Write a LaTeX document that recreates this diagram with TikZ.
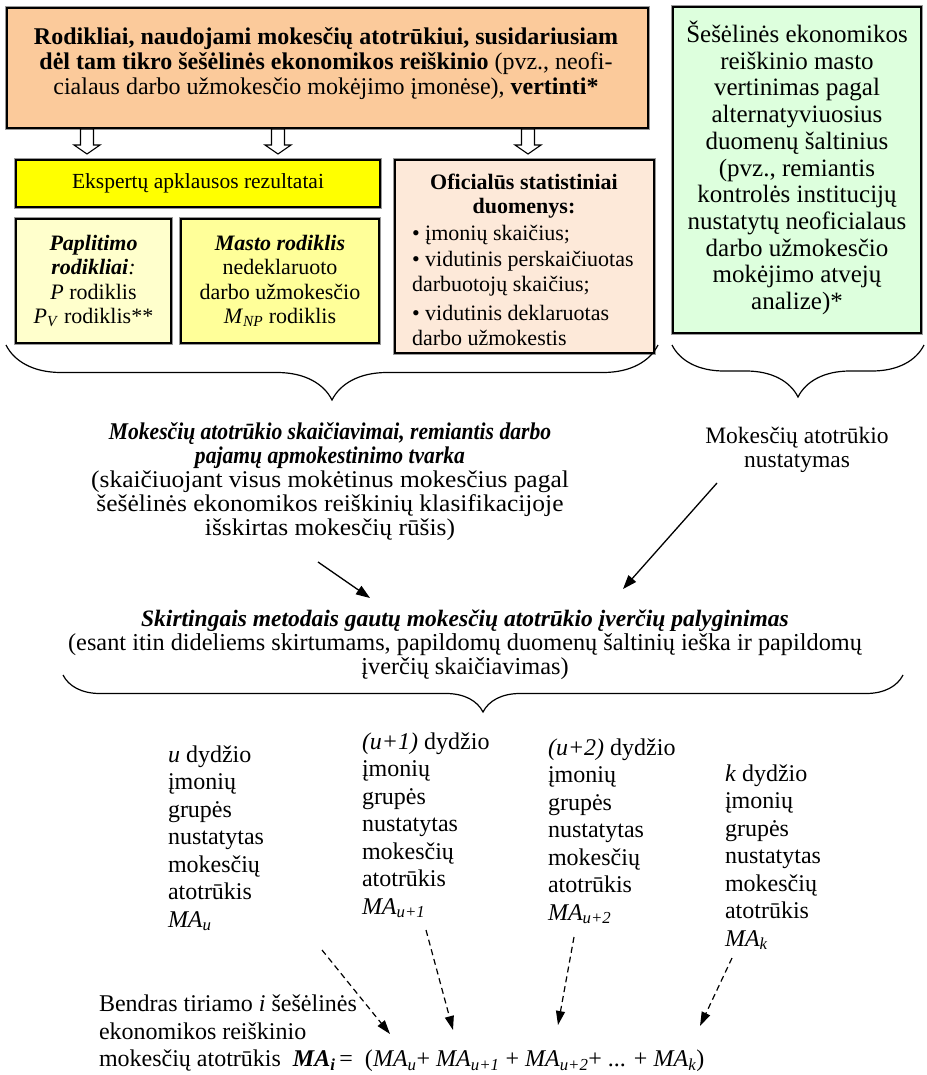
\documentclass[tikz,border=0pt]{standalone}
\usepackage{fontspec}
\setmainfont{Liberation Serif}
\usetikzlibrary{decorations.pathreplacing,arrows.meta}

\definecolor{peach}{RGB}{251,202,155}
\definecolor{lemon}{RGB}{255,255,0}
\definecolor{paleyellow}{RGB}{255,255,204}
\definecolor{softyellow}{RGB}{255,255,153}
\definecolor{paleorange}{RGB}{253,233,217}
\definecolor{palegreen}{RGB}{221,255,221}

\newcommand{\fsz}[2]{\fontsize{#1}{#2}\selectfont}
\newcommand{\ma}[1]{\textit{MA}\textsubscript{\textit{#1}}}
\newcommand{\narrowbi}[1]{{\bfseries\itshape\addfontfeature{FakeStretch=0.9}#1}}
\newcommand{\widerm}[1]{{\addfontfeature{FakeStretch=1.06}#1}}

\begin{document}
\begin{tikzpicture}[x=1pt,y=-1pt,
  every node/.style={inner sep=0pt, outer sep=0pt},
  box/.style={draw=black, line width=1.3pt, preaction={draw=black!40, line width=3.4pt}, anchor=north west},
  boxtext/.style={align=center, font=\fsz{22}{24.5}},
  plain/.style={align=center, font=\fsz{23.5}{24}},
  column/.style={align=left, anchor=north west, font=\fsz{24}{27.5}},
  bracepath/.style={decorate, line width=1.2pt, decoration={brace, mirror, amplitude=#1}},
  solidarrow/.style={line width=1.3pt, -{Triangle[length=14pt,width=10pt]}},
  dasharrow/.style={line width=1.2pt, dash pattern=on 6pt off 4pt, -{Triangle[length=14pt,width=9pt]}},
  hollowdown/.pic={\draw[line width=1.1pt, fill=white]
      (-6.5,-12) -- (6.5,-12) -- (6.5,4) -- (13,4) -- (0,13) -- (-13,4) -- (-6.5,4) -- cycle;}
]
\useasboundingbox (0,0) rectangle (926,1075);

% ---------- top row of boxes ----------
\node[box, fill=peach, minimum width=641, minimum height=120] (rod) at (7,8) {};
\node[align=center, font=\fsz{24}{25}] (rodtxt) at (326,64) {\textbf{Rodikliai, naudojami mokesčių atotrūkiui, susidariusiam}\\
  \textbf{dėl tam tikro šešėlinės ekonomikos reiškinio} (pvz., neofi-\\
  cialaus darbo užmokesčio mokėjimo įmonėse), \textbf{vertinti*}};

\node[box, fill=palegreen, minimum width=248, minimum height=326] (alt) at (673,7) {};
\node[align=center, font=\fsz{25}{26.7}] (alttxt) at (797,168) {Šešėlinės ekonomikos\\ reiškinio masto\\ vertinimas pagal\\
  alternatyviuosius\\ duomenų šaltinius\\ (pvz., remiantis\\ kontrolės institucijų\\ nustatytų neoficialaus\\
  darbo užmokesčio\\ mokėjimo atvejų\\ analize)*};

% hollow arrows from the heading box
\pic at (87,141) {hollowdown};
\pic at (278,141) {hollowdown};
\pic at (528,141) {hollowdown};

\node[box, fill=lemon, minimum width=364, minimum height=47, align=center, font=\fsz{21.5}{24}] (eksp) at (16,160) {Ekspertų apklausos rezultatai};
\node[box, fill=paleyellow, minimum width=155, minimum height=124, boxtext] (papl) at (16,219)
  {\textbf{\textit{Paplitimo}}\\ \textbf{\textit{rodikliai}}\textit{:}\\ \textit{P} rodiklis\\ \textit{P}\textsubscript{\textit{V}} rodiklis**};
\node[box, fill=softyellow, minimum width=198, minimum height=124, boxtext] (masto) at (181,219)
  {\textbf{\textit{Masto rodiklis}}\\ nedeklaruoto\\ darbo užmokesčio\\ \textit{M}\textsubscript{\textit{NP}} rodiklis};

\node[box, fill=paleorange, minimum width=259, minimum height=193] (ofic) at (395,160) {};
\node[boxtext] (ofictitle) at (524,196) {\textbf{Oficialūs statistiniai}\\ \textbf{duomenys:}};
\node[align=left, anchor=north west, font=\fsz{22}{24.5}] (oficlist) at (412,225)
  {• įmonių skaičius;\\[2pt] • vidutinis perskaičiuotas\\ darbuotojų skaičius;\\[5pt] • vidutinis deklaruotas\\ darbo užmokestis};

% ---------- braces under the boxes ----------
\coordinate (lbA) at (6,345);
\coordinate (lbB) at (658,345);
\coordinate (rbA) at (672,345);
\coordinate (rbB) at (924,345);
\draw[bracepath=55] (lbA) -- (lbB);
\draw[bracepath=52] (rbA) -- (rbB);

% ---------- middle level ----------
\node[align=center, font=\fsz{24}{24}] (calc) at (330,482)
  {\narrowbi{Mokesčių atotrūkio skaičiavimai, remiantis darbo}\\
   \narrowbi{pajamų apmokestinimo tvarka}\\
   \widerm{(skaičiuojant visus mokėtinus mokesčius pagal}\\
   \widerm{šešėlinės ekonomikos reiškinių klasifikacijoje}\\
   \widerm{išskirtas mokesčių rūšis)}};
\node[plain] (gap) at (797,450) {Mokesčių atotrūkio\\ nustatymas};

\node[align=center, font=\fsz{24.3}{24}] (cmp) at (465,645)
  {{\fontsize{23.5}{24}\selectfont\textbf{\textit{Skirtingais metodais gautų mokesčių atotrūkio įverčių palyginimas}}}\\
   (esant itin dideliems skirtumams, papildomų duomenų šaltinių ieška ir papildomų\\
   įverčių skaičiavimas)};

\coordinate (s1a) at (318,562);
\coordinate (s1b) at (370,598);
\coordinate (s2a) at (717,483);
\coordinate (s2b) at (623,589);
\draw[solidarrow] (s1a) -- (s1b);
\draw[solidarrow] (s2a) -- (s2b);

\coordinate (bbA) at (63,675);
\coordinate (bbB) at (903,675);
\draw[bracepath=37] (bbA) -- (bbB);

% ---------- company size groups ----------
\node[column] (g1) at (168,745.5) {\textit{u} dydžio\\ įmonių\\ grupės\\ nustatytas\\ mokesčių\\ atotrūkis\\ \ma{u}};
\node[column] (g2) at (362,732.5) {\textit{(u+1)} dydžio\\ įmonių\\ grupės\\ nustatytas\\ mokesčių\\ atotrūkis\\ \ma{u+1}};
\node[column] (g3) at (548,738.5) {\textit{(u+2)} dydžio\\ įmonių\\ grupės\\ nustatytas\\ mokesčių\\ atotrūkis\\ \ma{u+2}};
\node[column] (g4) at (725,764.5) {\textit{k} dydžio\\ įmonių\\ grupės\\ nustatytas\\ mokesčių\\ atotrūkis\\ \ma{k}};

% ---------- total ----------
\node[column] (total) at (99,995) {Bendras tiriamo \textit{i} šešėlinės\\ ekonomikos reiškinio\\
  mokesčių atotrūkis\ \ \textbf{\textit{MA}}\textsubscript{\textbf{\textit{i}}}\,=\ \ (\ma{u}+ \ma{u+1} + \ma{u+2}+ ... + \ma{k})};

\coordinate (d1a) at (322,950);  \coordinate (d1b) at (390,1034);
\coordinate (d2a) at (426,930);  \coordinate (d2b) at (453,1030);
\coordinate (d3a) at (574,937);  \coordinate (d3b) at (558,1025);
\coordinate (d4a) at (732,958);  \coordinate (d4b) at (700,1026);
\draw[dasharrow] (d1a) -- (d1b);
\draw[dasharrow] (d2a) -- (d2b);
\draw[dasharrow] (d3a) -- (d3b);
\draw[dasharrow] (d4a) -- (d4b);
\end{tikzpicture}
\end{document}
